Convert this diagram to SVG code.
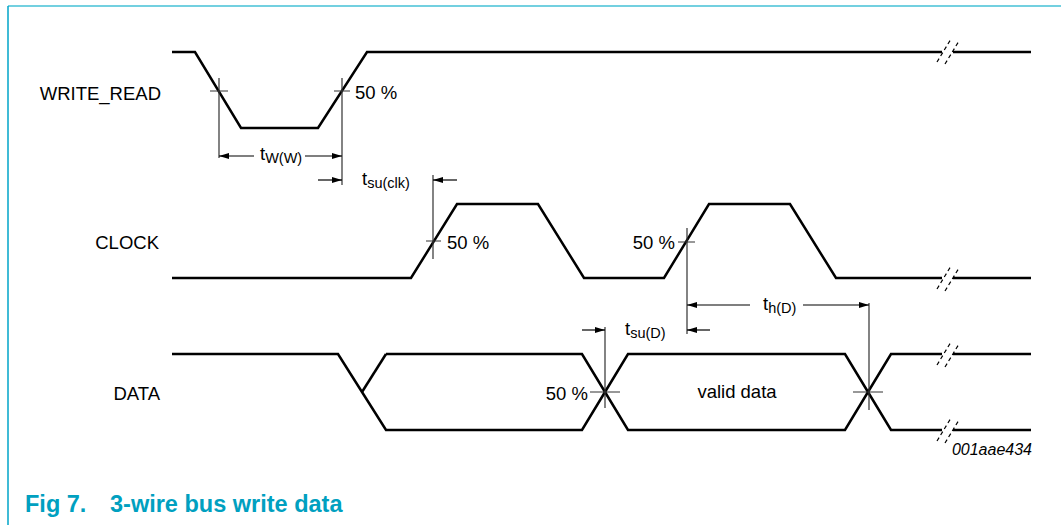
<svg xmlns="http://www.w3.org/2000/svg" width="1061" height="525" viewBox="0 0 1061 525">
<defs>
<marker id="ah" viewBox="0 0 10 6" refX="10" refY="3" markerWidth="10" markerHeight="6" markerUnits="userSpaceOnUse" orient="auto">
<path d="M0,0 L10,3 L0,6 Z" fill="#000"/>
</marker>
</defs>
<style>
.wave{fill:none;stroke:#000;stroke-width:2.5;stroke-linejoin:miter}
.thin{fill:none;stroke:#333;stroke-width:1.2}
.dim{fill:none;stroke:#000;stroke-width:1.2;marker-end:url(#ah)}
.brk{fill:none;stroke:#000;stroke-width:1.2;stroke-dasharray:4,3}
.lbl{font-family:"Liberation Sans",Arial,sans-serif;font-size:18.5px;fill:#000}
.sub{font-size:14.5px}
.title{font-family:"Liberation Sans",Arial,sans-serif;font-size:23.5px;font-weight:bold;fill:#00a0c0}
.code{font-family:"Liberation Sans",Arial,sans-serif;font-size:16px;font-style:italic;fill:#000}
</style>
<rect width="1061" height="525" fill="#fff"/>
<g id="frame">
<line x1="8" y1="6" x2="1061" y2="6" stroke="#44c0d6" stroke-width="1.5"/>
<line x1="8" y1="6" x2="8" y2="525" stroke="#00a5c8" stroke-width="1.5"/>
</g>
<g id="write_read">
<text class="lbl" x="161" y="100" text-anchor="end">WRITE_READ</text>
<path class="wave" d="M172,52 H195 L241,128 H318 L367,52 H942"/>
<path class="wave" d="M953,52 H1031"/>
<path class="brk" d="M937,62 L951,39 M945,64 L959,41"/>
</g>
<g id="clock">
<text class="lbl" x="159" y="249" text-anchor="end">CLOCK</text>
<path class="wave" d="M172,278 H411 L457,204 H538 L584,278 H664 L709,204 H790 L836,278 H942"/>
<path class="wave" d="M953,278 H1031"/>
<path class="brk" d="M937,289 L951,266 M945,291 L959,268"/>
</g>
<g id="data">
<text class="lbl" x="160" y="400" text-anchor="end">DATA</text>
<path class="wave" d="M172,354 H338 L362,392 L386,430 H582 L605,392 L628,354 H845 L868,392 L891,430 H942"/>
<path class="wave" d="M386,354 L362,392"/>
<path class="wave" d="M386,354 H582 L605,392 L628,430 H845 L868,392 L891,354 H942"/>
<path class="wave" d="M953,354 H1031 M953,430 H1031"/>
<path class="brk" d="M937,365 L951,342 M945,367 L959,344"/>
<path class="brk" d="M937,441 L951,418 M945,443 L959,420"/>
<text class="lbl" x="737" y="398" text-anchor="middle">valid data</text>
</g>
<g id="connectors">
<path class="thin" d="M219,78 V158 M210,91 H228"/>
<path class="thin" d="M342,78 V185 M334,91 H350"/>
<path class="thin" d="M433,175 V259 M426,241 H441"/>
<path class="thin" d="M687,228 V334 M678,242 H695"/>
<path class="thin" d="M605,327 V408 M590,392 H620"/>
<path class="thin" d="M869,303 V410 M853,392 H883"/>
<path class="dim" d="M254,156 H219"/>
<path class="dim" d="M305,156 H342"/>
<path class="dim" d="M318,180 H342"/>
<path class="dim" d="M457,180 H433"/>
<path class="dim" d="M750,305 H687"/>
<path class="dim" d="M803,305 H869"/>
<path class="dim" d="M582,330 H605"/>
<path class="dim" d="M710,330 H687"/>
</g>
<g id="labels">
<text class="lbl" x="355" y="99">50 %</text>
<text class="lbl" x="447" y="249">50 %</text>
<text class="lbl" x="675" y="249" text-anchor="end">50 %</text>
<text class="lbl" x="588" y="400" text-anchor="end">50 %</text>
<text class="lbl" x="260" y="160">t<tspan class="sub" dy="3">W(W)</tspan></text>
<text class="lbl" x="362" y="185">t<tspan class="sub" dy="3">su(clk)</tspan></text>
<text class="lbl" x="625" y="335">t<tspan class="sub" dy="3">su(D)</tspan></text>
<text class="lbl" x="763" y="310">t<tspan class="sub" dy="3">h(D)</tspan></text>
<text class="code" x="1032" y="455" text-anchor="end">001aae434</text>
<text class="title" x="25" y="512">Fig 7.</text>
<text class="title" x="110" y="512">3-wire bus write data</text>
</g>
</svg>
